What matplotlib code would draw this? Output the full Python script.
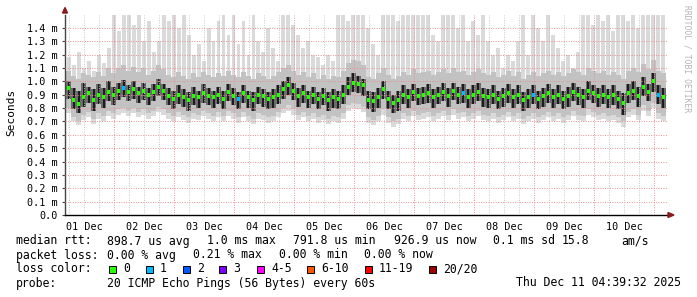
import numpy as np
import matplotlib
matplotlib.use("Agg")
import matplotlib.pyplot as plt
from matplotlib.patches import Polygon, Rectangle

# smokeping-style 10 day graph, one bin = 2 hours, starting 01 Dec 04:40
plt.rcParams['font.family'] = ['DejaVu Sans Mono']

t0 = 4.667      # hours after 01 Dec 00:00
step = 2.0

# ping distribution per bin (ms)
top = [1.18, 1.12, 1.22, 1.10, 1.15, 1.08, 1.20, 1.14, 1.25,
       1.50, 1.38, 1.50, 1.50, 1.42, 1.50, 1.30, 1.45, 1.22, 1.30,
       1.50, 1.45, 1.50, 1.40, 1.50, 1.35, 1.20, 1.28, 1.15, 1.40, 1.30, 1.45,
       1.50, 1.35, 1.50, 1.28, 1.45, 1.20, 1.50, 1.30, 1.22, 1.40, 1.25, 1.15,
       1.50, 1.50, 1.42, 1.35, 1.25, 1.30, 1.20, 1.18, 1.12, 1.20, 1.15,
       1.50, 1.50, 1.45, 1.50, 1.50, 1.50, 1.40, 1.28, 1.20,
       1.50, 1.50, 1.50, 1.45, 1.50, 1.50, 1.50, 1.50, 1.50, 1.50, 1.35, 1.30, 1.50, 1.50, 1.50,
       1.40, 1.50, 1.30, 1.45, 1.35, 1.50, 1.30, 1.20, 1.25, 1.10, 1.20, 1.15, 1.30,
       1.50, 1.20, 1.50, 1.40, 1.30, 1.50, 1.35, 1.25, 1.15, 1.20, 1.10, 1.22,
       1.50, 1.50, 1.42, 1.50, 1.45, 1.50, 1.38, 1.50,
       1.50, 1.45, 1.50, 1.40, 1.50, 1.50, 1.50, 1.50, 1.50]

hi2 = [1.08, 1.04, 1.02, 1.06, 1.05, 1.03, 1.07, 1.04, 1.10, 1.06,
       1.10, 1.12, 1.08, 1.11, 1.07, 1.10, 1.05, 1.08, 1.12, 1.09,
       1.05, 1.03, 1.07, 1.04, 1.02, 1.06, 1.03, 1.07, 1.05, 1.03, 1.06, 1.04,
       1.08, 1.05, 1.03, 1.07, 1.04, 1.02, 1.06, 1.04, 1.02, 1.04, 1.07, 1.10,
       1.12, 1.08, 1.05, 1.07, 1.03, 1.06, 1.02, 1.05, 1.02, 1.04, 1.03, 1.08,
       1.14, 1.16, 1.15, 1.12, 1.03, 1.02,
       1.06, 1.10, 1.05, 1.02, 1.04, 1.07, 1.05, 1.09, 1.06, 1.07, 1.08, 1.05,
       1.07, 1.09, 1.06, 1.10, 1.07, 1.08, 1.05, 1.07, 1.09, 1.06, 1.05, 1.07,
       1.03, 1.05, 1.08, 1.04, 1.07, 1.02, 1.05, 1.07, 1.04, 1.06, 1.08, 1.05,
       1.07, 1.04, 1.06, 1.09, 1.07, 1.05, 1.10, 1.08, 1.06, 1.08, 1.05, 1.07,
       1.05, 1.02, 1.08, 1.10, 1.07, 1.13, 1.09, 1.16, 1.08, 1.06]

hi = [1.00, 0.95, 0.93, 0.99, 0.96, 0.94, 0.98, 0.95, 1.00, 0.96,
      0.99, 1.01, 0.97, 1.00, 0.96, 0.99, 0.95, 0.98, 1.02, 0.98,
      0.95, 0.93, 0.97, 0.94, 0.92, 0.96, 0.93, 0.98, 0.95, 0.93, 0.96, 0.93,
      0.98, 0.95, 0.92, 0.97, 0.93, 0.92, 0.96, 0.94, 0.92, 0.94, 0.97, 1.00,
      1.03, 0.99, 0.95, 0.97, 0.93, 0.96, 0.92, 0.95, 0.92, 0.94, 0.93, 0.97,
      1.03, 1.06, 1.04, 1.02, 0.93, 0.92,
      0.95, 1.00, 0.93, 0.90, 0.93, 0.97, 0.94, 0.98, 0.95, 0.96, 0.98, 0.94,
      0.96, 0.99, 0.95, 0.99, 0.96, 0.98, 0.94, 0.97, 0.99, 0.95, 0.94, 0.97,
      0.93, 0.95, 0.98, 0.94, 0.97, 0.92, 0.94, 0.97, 0.93, 0.95, 0.98, 0.94,
      0.97, 0.93, 0.96, 0.99, 0.96, 0.94, 1.00, 0.97, 0.95, 0.97, 0.94, 0.97,
      0.93, 0.91, 0.98, 1.00, 0.96, 1.03, 0.98, 1.06, 0.97, 0.95]

med = [0.95, 0.86, 0.83, 0.88, 0.91, 0.86, 0.90, 0.88, 0.92, 0.90,
       0.93, 0.95, 0.92, 0.94, 0.91, 0.93, 0.90, 0.92, 0.96, 0.93,
       0.89, 0.87, 0.90, 0.88, 0.86, 0.89, 0.88, 0.91, 0.89, 0.88, 0.90, 0.87,
       0.92, 0.89, 0.87, 0.91, 0.88, 0.86, 0.90, 0.89, 0.87, 0.88, 0.90, 0.94,
       0.97, 0.93, 0.89, 0.91, 0.88, 0.90, 0.87, 0.89, 0.86, 0.88, 0.87, 0.90,
       0.96, 0.99, 0.98, 0.97, 0.86, 0.85,
       0.88, 0.94, 0.87, 0.84, 0.86, 0.90, 0.88, 0.92, 0.89, 0.90, 0.91, 0.88,
       0.90, 0.92, 0.89, 0.93, 0.90, 0.91, 0.88, 0.90, 0.92, 0.89, 0.88, 0.90,
       0.87, 0.89, 0.91, 0.88, 0.90, 0.86, 0.88, 0.90, 0.87, 0.89, 0.91, 0.88,
       0.90, 0.87, 0.89, 0.92, 0.90, 0.88, 0.93, 0.91, 0.89, 0.90, 0.88, 0.90,
       0.87, 0.84, 0.91, 0.93, 0.89, 0.96, 0.92, 1.00, 0.90, 0.88]

lo = [0.87, 0.79, 0.76, 0.81, 0.84, 0.78, 0.83, 0.80, 0.85, 0.82,
      0.86, 0.88, 0.85, 0.87, 0.84, 0.86, 0.82, 0.85, 0.89, 0.86,
      0.82, 0.79, 0.83, 0.81, 0.78, 0.82, 0.80, 0.84, 0.82, 0.80, 0.83, 0.79,
      0.85, 0.82, 0.79, 0.84, 0.80, 0.78, 0.83, 0.81, 0.79, 0.80, 0.83, 0.87,
      0.90, 0.86, 0.81, 0.84, 0.80, 0.83, 0.79, 0.82, 0.78, 0.80, 0.79, 0.83,
      0.90, 0.92, 0.91, 0.89, 0.79, 0.77,
      0.80, 0.87, 0.79, 0.76, 0.78, 0.83, 0.80, 0.85, 0.82, 0.83, 0.84, 0.80,
      0.83, 0.85, 0.81, 0.86, 0.83, 0.84, 0.80, 0.83, 0.85, 0.81, 0.80, 0.83,
      0.79, 0.81, 0.84, 0.80, 0.83, 0.78, 0.80, 0.83, 0.79, 0.81, 0.84, 0.80,
      0.83, 0.79, 0.81, 0.85, 0.82, 0.80, 0.86, 0.84, 0.81, 0.83, 0.80, 0.82,
      0.79, 0.75, 0.84, 0.86, 0.81, 0.89, 0.85, 0.92, 0.83, 0.80]

lo2 = [0.80, 0.73, 0.70, 0.75, 0.77, 0.72, 0.76, 0.74, 0.78, 0.76,
       0.79, 0.80, 0.78, 0.80, 0.77, 0.79, 0.76, 0.78, 0.81, 0.79,
       0.76, 0.74, 0.77, 0.75, 0.73, 0.76, 0.75, 0.78, 0.76, 0.74, 0.77, 0.74,
       0.78, 0.76, 0.73, 0.77, 0.74, 0.72, 0.76, 0.75, 0.73, 0.74, 0.77, 0.80,
       0.82, 0.79, 0.75, 0.77, 0.74, 0.76, 0.73, 0.75, 0.72, 0.74, 0.73, 0.76,
       0.82, 0.84, 0.83, 0.81, 0.73, 0.71,
       0.74, 0.79, 0.73, 0.70, 0.72, 0.76, 0.74, 0.78, 0.75, 0.76, 0.77, 0.74,
       0.76, 0.78, 0.75, 0.79, 0.76, 0.77, 0.74, 0.76, 0.78, 0.75, 0.74, 0.76,
       0.73, 0.75, 0.77, 0.74, 0.76, 0.72, 0.74, 0.76, 0.73, 0.75, 0.77, 0.74,
       0.76, 0.73, 0.75, 0.78, 0.75, 0.74, 0.79, 0.77, 0.75, 0.76, 0.74, 0.75,
       0.73, 0.70, 0.77, 0.79, 0.75, 0.82, 0.78, 0.84, 0.76, 0.74]

bot = [0.76, 0.70, 0.67, 0.71, 0.73, 0.68, 0.72, 0.70, 0.74, 0.72,
       0.75, 0.76, 0.74, 0.76, 0.73, 0.75, 0.72, 0.74, 0.77, 0.75,
       0.72, 0.70, 0.73, 0.71, 0.69, 0.72, 0.71, 0.74, 0.72, 0.70, 0.73, 0.70,
       0.74, 0.72, 0.69, 0.73, 0.70, 0.68, 0.72, 0.71, 0.69, 0.70, 0.73, 0.76,
       0.78, 0.75, 0.71, 0.73, 0.70, 0.72, 0.69, 0.71, 0.68, 0.70, 0.69, 0.72,
       0.78, 0.80, 0.79, 0.77, 0.69, 0.67,
       0.70, 0.75, 0.69, 0.66, 0.68, 0.72, 0.70, 0.74, 0.71, 0.72, 0.73, 0.70,
       0.72, 0.74, 0.71, 0.75, 0.72, 0.73, 0.70, 0.72, 0.74, 0.71, 0.70, 0.72,
       0.69, 0.71, 0.73, 0.70, 0.72, 0.68, 0.70, 0.72, 0.69, 0.71, 0.73, 0.70,
       0.72, 0.69, 0.71, 0.74, 0.71, 0.70, 0.75, 0.73, 0.71, 0.72, 0.70, 0.71,
       0.69, 0.66, 0.73, 0.75, 0.71, 0.78, 0.74, 0.80, 0.72, 0.70]

# bins with one lost ping out of 20
loss_bins = [11, 34, 79, 93, 118]

day_labels = ["01 Dec", "02 Dec", "03 Dec", "04 Dec", "05 Dec",
              "06 Dec", "07 Dec", "08 Dec", "09 Dec", "10 Dec"]
yticks = [0.0, 0.1, 0.2, 0.3, 0.4, 0.5, 0.6, 0.7, 0.8, 0.9, 1.0, 1.1, 1.2, 1.3, 1.4]

loss_names = ["0", "1", "2", "3", "4-5", "6-10", "11-19", "20/20"]
loss_colors = ["#26ff00", "#00b8ff", "#0059ff", "#7e00ff", "#ff00ff", "#ff5500", "#ff0000", "#a10000"]

W, H = 697, 297


def fx(x):
    return x / W


def fy(y):
    return 1 - y / H


fig = plt.figure(figsize=(W / 100, H / 100), dpi=100)
fig.patch.set_facecolor("white")
ax = fig.add_axes([fx(65), fy(215), (668 - 65) / W, (215 - 14.6) / H])
ax.set_facecolor("white")

n = len(med)
xs = t0 + step * np.arange(n)
ax.set_xlim(t0 - 0.4, t0 + 240 + 0.8)
ax.set_ylim(0, 1.5)

top_a, hi2_a, hi_a = np.array(top), np.array(hi2), np.array(hi)
lo_a, lo2_a, bot_a, med_a = np.array(lo), np.array(lo2), np.array(bot), np.array(med)

# smoke: light spikes on top, then darker shades towards the median
ax.bar(xs + 0.2, top_a - bot_a, bottom=bot_a, width=step * 0.8, align="edge",
       color="#dadada", lw=0, zorder=1)
ax.bar(xs, hi2_a - bot_a, bottom=bot_a, width=step, align="edge", color="#dadada", lw=0, zorder=1)
ax.bar(xs, hi2_a - lo2_a, bottom=lo2_a, width=step, align="edge", color="#c2c2c2", lw=0, zorder=2)
ax.bar(xs, hi_a - lo_a, bottom=lo_a, width=step, align="edge", color="#6c6c6c", lw=0, zorder=3)
ax.bar(xs + 0.6, hi_a - lo_a, bottom=lo_a, width=0.8, align="edge", color="#1c1c1c", lw=0, zorder=3)

# grid
for v in yticks[1:]:
    ax.axhline(v, color="#e89090", lw=0.7, ls=(0, (1, 1.5)), zorder=4)
for h in range(6, 246, 6):
    if h % 24 == 0:
        ax.axvline(h, color="#e89090", lw=0.7, ls=(0, (1, 1.5)), zorder=4)
    else:
        ax.axvline(h, color="#c4c4c4", lw=0.7, ls=(0, (1, 1.5)), zorder=4)

# median, coloured by loss
mcol = [loss_colors[1] if i in loss_bins else loss_colors[0] for i in range(n)]
ax.scatter(xs + 1.0, med_a, s=8, marker="s", c=mcol, lw=0, zorder=5)

for s in ["top", "right"]:
    ax.spines[s].set_visible(False)
ax.spines["left"].set_color("#444444")
ax.spines["bottom"].set_color("black")
ax.spines["left"].set_linewidth(1)
ax.spines["bottom"].set_linewidth(1)

ax.set_yticks(yticks)
ax.set_yticklabels(["0.0"] + ["%.1f m" % v for v in yticks[1:]], fontsize=7.3)
ax.tick_params(axis="y", length=2, width=0.8, pad=3, color="#444444")
ax.set_xticks([12 + 24 * i for i in range(10)])
ax.set_xticklabels(day_labels, fontsize=7.3)
ax.tick_params(axis="x", length=0, pad=5)

fig.text(fx(11), fy(112), "Seconds", rotation=90, ha="center", va="center", fontsize=8)
fig.text(fx(687), fy(5), "RRDTOOL / TOBI OETIKER", rotation=270, ha="center", va="top",
         fontsize=5.8, color="#b4b4b4")

# axis arrows
fig.patches.append(Polygon([[fx(62.5), fy(13)], [fx(67.5), fy(13)], [fx(65), fy(7.5)]],
                           closed=True, transform=fig.transFigure, color="#8b1a1a"))
fig.patches.append(Polygon([[fx(668), fy(212.5)], [fx(668), fy(217.5)], [fx(674), fy(215)]],
                           closed=True, transform=fig.transFigure, color="#8b1a1a"))

# legend / statistics
fs = 8.3
lines = [
    (241, [(16, "median rtt:"), (107, "898.7 us avg"), (207, "1.0 ms max"), (293, "791.8 us min"),
           (394, "926.9 us now"), (493, "0.1 ms sd"), (562, "15.8"), (621, "am/s")]),
    (255, [(16, "packet loss:"), (107, "0.00 % avg"), (193, "0.21 % max"), (279, "0.00 % min"),
           (364, "0.00 % now")]),
    (283, [(16, "probe:"), (107, "20 ICMP Echo Pings (56 Bytes) every 60s")]),
]
for y, parts in lines:
    for x, s in parts:
        fig.text(fx(x), fy(y), s, ha="left", va="center", fontsize=fs)
fig.text(fx(681), fy(283), "Thu Dec 11 04:39:32 2025", ha="right", va="center", fontsize=fs)

fig.text(fx(16), fy(269), "loss color:", ha="left", va="center", fontsize=fs)
sq_x = [109, 146, 183, 219, 257, 307, 365, 429]
for x, name, col in zip(sq_x, loss_names, loss_colors):
    fig.patches.append(Rectangle((fx(x), fy(272.5)), 7 / W, 7 / H, transform=fig.transFigure,
                                 facecolor=col, edgecolor="black", lw=0.7))
    fig.text(fx(x + 14), fy(269), name, ha="left", va="center", fontsize=fs)

fig.savefig("out.png", dpi=100)
